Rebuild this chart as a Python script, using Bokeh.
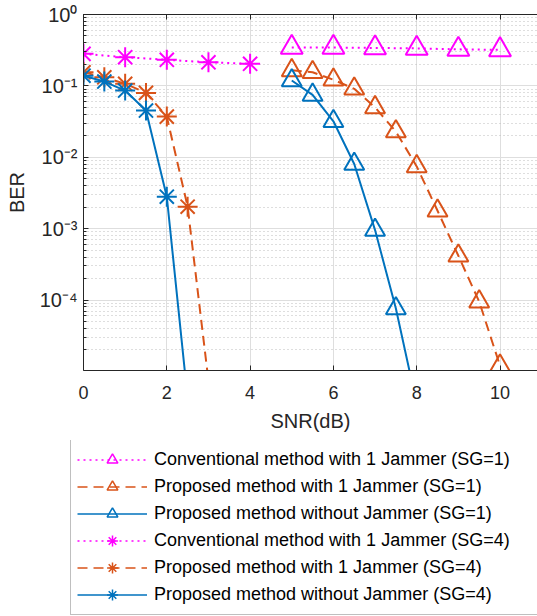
from bokeh.plotting import figure
from bokeh.layouts import column
from bokeh.models import (LinearAxis, Legend, LegendItem, CustomJSTickFormatter,
                          FixedTicker, Range1d, LogTicker)
from bokeh.embed import file_html
from bokeh.resources import INLINE

# ---- data ----
x_conv_sg1 = [5, 6, 7, 8, 9, 10]
ber_conv_sg1 = [0.345, 0.345, 0.34, 0.335, 0.325, 0.32]

x_prop_j_sg1 = [5, 5.5, 6, 6.5, 7, 7.5, 8, 8.5, 9, 9.5, 10]
ber_prop_j_sg1 = [0.165, 0.155, 0.122, 0.091, 0.050, 0.0229, 0.00745,
                  0.00178, 0.000417, 0.000095, 0.000012]

x_prop_noj_sg1 = [5, 5.5, 6, 6.5, 7, 7.5, 8]
ber_prop_noj_sg1 = [0.119, 0.0748, 0.0319, 0.00805, 0.000955, 0.000076, 0.0000035]

x_conv_sg4 = [0, 1, 2, 3, 4]
ber_conv_sg4 = [0.281, 0.252, 0.232, 0.214, 0.204]

x_prop_j_sg4 = [0, 0.5, 1, 1.5, 2, 2.5, 3]
ber_prop_j_sg4 = [0.155, 0.132, 0.107, 0.0798, 0.0371, 0.00203, 0.0000074]

x_prop_noj_sg4 = [0, 0.5, 1, 1.5, 2, 2.5]
ber_prop_noj_sg4 = [0.139, 0.115, 0.0859, 0.0451, 0.0028, 0.0000042]

x_ticks = [0, 2, 4, 6, 8, 10]

labels = [
    "Conventional method with 1 Jammer (SG=1)",
    "Proposed method with 1 Jammer (SG=1)",
    "Proposed method without Jammer (SG=1)",
    "Conventional method with 1 Jammer (SG=4)",
    "Proposed method with 1 Jammer (SG=4)",
    "Proposed method without Jammer (SG=4)",
]

BLUE = "#0072BD"
ORANGE = "#D95319"
MAGENTA = "#FF00FF"
AXC = "#262626"
FONT = "Liberation Sans"

p = figure(frame_width=454, frame_height=356,
           min_border_left=83, min_border_right=0, min_border_top=14,
           min_border_bottom=70,
           x_range=Range1d(0, 10.9), y_range=Range1d(1.03e-5, 1.0),
           y_axis_type="log", output_backend="svg", toolbar_location=None,
           background_fill_color="white", border_fill_color="white")
p.outline_line_color = None
p.frame_align = False

# axes
xa = p.xaxis[0]
xa.ticker = FixedTicker(ticks=x_ticks)
xa.axis_label = "SNR(dB)"
ya = p.yaxis[0]
ya.ticker = LogTicker(num_minor_ticks=10)
ya.axis_label = "BER"
ya.formatter = CustomJSTickFormatter(code="""
const sup = {'-':'\u207B','0':'\u2070','1':'\u00B9','2':'\u00B2','3':'\u00B3','4':'\u2074',
             '5':'\u2075','6':'\u2076','7':'\u2077','8':'\u2078','9':'\u2079'};
const e = Math.round(Math.log10(tick));
return '10' + String(e).split('').map(c => sup[c]).join('');
""")
for ax in (xa, ya):
    ax.axis_line_color = AXC
    ax.major_tick_line_color = AXC
    ax.minor_tick_line_color = AXC
    ax.major_tick_in = 5
    ax.major_tick_out = 0
    ax.minor_tick_in = 3
    ax.minor_tick_out = 0
    ax.major_label_text_font = FONT
    ax.major_label_text_color = AXC
    ax.major_label_text_font_size = "18px"
    ax.axis_label_text_font = FONT
    ax.axis_label_text_font_style = "normal"
    ax.axis_label_text_color = AXC
    ax.axis_label_text_font_size = "20px"
xa.minor_tick_line_color = None
xa.major_label_standoff = 15
xa.axis_label_standoff = 8
ya.major_label_standoff = 6
ya.axis_label_standoff = 9
ya.major_label_text_font_size = "20px"

top = LinearAxis(ticker=FixedTicker(ticks=x_ticks),
                 formatter=CustomJSTickFormatter(code="return '';"),
                 major_tick_in=5, major_tick_out=0, minor_tick_line_color=None,
                 axis_line_color=AXC, major_tick_line_color=AXC, major_label_standoff=0)
p.add_layout(top, "above")

# grids
p.xgrid.ticker = FixedTicker(ticks=x_ticks)
p.xgrid.grid_line_color = "#dedede"
p.ygrid.grid_line_color = "#dedede"
p.ygrid.minor_grid_line_color = "#bdbdbd"
p.ygrid.minor_grid_line_dash = "1 3"

# legend panel (separate figure below the plot; its data lie outside its ranges)
q = figure(width=537, height=176, x_range=Range1d(1000, 1001), y_range=Range1d(0, 1),
           x_axis_location=None, y_axis_location=None,
           min_border_left=0, min_border_right=0, min_border_top=0, min_border_bottom=0,
           output_backend="svg", toolbar_location=None,
           background_fill_color="white", border_fill_color="white")
q.outline_line_color = None
q.xgrid.visible = False
q.ygrid.visible = False
q.frame_align = False

LW = 2
series = [
    (x_conv_sg1, ber_conv_sg1, MAGENTA, "2 4", "triangle", 22),
    (x_prop_j_sg1, ber_prop_j_sg1, ORANGE, "10 6", "triangle", 20),
    (x_prop_noj_sg1, ber_prop_noj_sg1, BLUE, "solid", "triangle", 20),
    (x_conv_sg4, ber_conv_sg4, MAGENTA, "2 4", "asterisk", 20),
    (x_prop_j_sg4, ber_prop_j_sg4, ORANGE, "10 6", "asterisk", 20),
    (x_prop_noj_sg4, ber_prop_noj_sg4, BLUE, "solid", "asterisk", 20),
]
items = []
for (xs, ys, col, dash, mk, sz), lab in zip(series, labels):
    p.line(xs, ys, line_color=col, line_width=LW, line_dash=dash)
    p.scatter(xs, ys, marker=mk, size=sz, line_color=col, line_width=LW, fill_color=None)
    l1 = q.line(xs, ys, line_color=col, line_width=1.5, line_dash=dash)
    l2 = q.scatter(xs, ys, marker=mk, size=sz, line_color=col, line_width=1.5,
                   fill_color=None)
    items.append(LegendItem(label=lab, renderers=[l1, l2]))

leg = Legend(items=items, location=(70, 1), orientation="vertical",
             glyph_width=70, glyph_height=27, spacing=0, padding=6, margin=0,
             label_standoff=7, label_width=400,
             label_text_font=FONT, label_text_font_size="18px",
             label_text_color="#000000",
             border_line_color="#7f7f7f", border_line_width=1,
             background_fill_color="white", background_fill_alpha=1.0)
q.add_layout(leg, "center")

layout = column(p, q, spacing=0)
open("out.html", "w").write(file_html(layout, INLINE))
